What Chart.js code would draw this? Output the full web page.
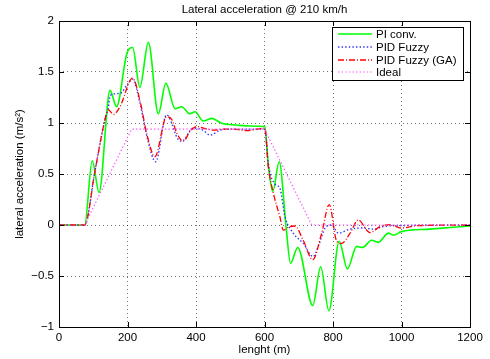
<!DOCTYPE html>
<html>
<head>
<meta charset="utf-8">
<script src="https://cdn.jsdelivr.net/npm/chart.js@4.4.1/dist/chart.umd.min.js"></script>
<style>
  html, body { margin: 0; padding: 0; background: #fff; }
  #wrap { width: 490px; height: 359px; }
</style>
</head>
<body>
<div id="wrap"><canvas id="c" width="490" height="359"></canvas></div>
<script>
// values (x in m, y in m/s^2)
const piX = [0, 75, 97, 117, 149, 168, 198, 215, 236, 261, 290, 312, 339, 358, 382, 397, 421, 446, 475, 519, 557, 601, 611, 624, 643, 663, 676, 697, 741, 764, 788, 818, 842, 869, 886, 913, 932, 962, 976, 1000, 1083, 1200];
const piY = [0, 0, 0.63, 0.32, 1.32, 1.16, 1.68, 1.74, 1.35, 1.79, 1.09, 1.39, 1.14, 1.16, 1.09, 1.11, 1.02, 1.045, 0.997, 0.98, 0.97, 0.965, 0.6, 0.33, 0.62, -0.02, -0.375, -0.22, -0.79, -0.41, -0.84, -0.16, -0.43, -0.21, -0.22, -0.15, -0.17, -0.08, -0.1, -0.065, -0.04, -0.01];

const fuzzyX = [0, 75, 105, 134, 144, 149, 178, 200, 215, 236, 258, 282, 314, 329, 344, 358, 392, 421, 441, 470, 500, 550, 601, 611, 631, 645, 660, 684, 713, 742, 757, 777, 796, 816, 850, 889, 918, 947, 1000, 1200];
const fuzzyY = [0, 0, 0.53, 1.03, 1.15, 1.27, 1.29, 1.38, 1.43, 1.2, 0.85, 0.62, 1.08, 1.0, 0.86, 0.82, 0.95, 0.93, 0.88, 0.93, 0.94, 0.94, 0.94, 0.6, 0.4, 0.36, 0.08, -0.08, -0.18, -0.31, -0.21, -0.03, 0.0, -0.08, -0.04, -0.03, -0.04, -0.015, -0.005, 0];

const gaX = [0, 75, 105, 134, 144, 159, 178, 215, 236, 258, 280, 314, 329, 344, 363, 382, 402, 421, 451, 480, 509, 548, 601, 611, 626, 645, 655, 674, 689, 713, 741, 767, 789, 811, 825, 850, 874, 898, 908, 937, 966, 1000, 1044, 1200];
const gaY = [0, 0, 0.53, 1.03, 1.13, 1.085, 1.16, 1.44, 1.225, 0.87, 0.67, 1.06, 1.036, 0.9, 0.82, 0.915, 0.965, 0.95, 0.93, 0.94, 0.94, 0.925, 0.95, 0.57, 0.31, 0.08, -0.05, -0.015, -0.01, -0.15, -0.34, -0.08, 0.2, -0.16, -0.18, -0.08, 0.05, -0.05, -0.075, -0.015, 0.003, -0.03, -0.007, 0];

const idealX = [0, 75, 212, 600, 738, 1200];
const idealY = [0, 0, 0.94, 0.94, 0, 0];

const seriesNames = ['PI conv.', 'PID Fuzzy', 'PID Fuzzy (GA)', 'Ideal'];
const xTicks = [0, 200, 400, 600, 800, 1000, 1200];
const yTicks = [-1, -0.5, 0, 0.5, 1, 1.5, 2];

const FONT = '"Liberation Sans", Arial, Helvetica, sans-serif';

function pts(xs, ys) {
  return xs.map((x, i) => ({ x: x, y: ys[i] }));
}

const datasets = [
  { label: seriesNames[0], data: pts(piX, piY), borderColor: '#00ff00', borderWidth: 1.6,
    cubicInterpolationMode: 'monotone', order: 4 },
  { label: seriesNames[1], data: pts(fuzzyX, fuzzyY), borderColor: '#3030ff', borderWidth: 1.4,
    borderDash: [1.4, 2.2], cubicInterpolationMode: 'monotone', order: 3 },
  { label: seriesNames[2], data: pts(gaX, gaY), borderColor: '#ff0000', borderWidth: 1.3,
    borderDash: [6, 2, 1, 2], cubicInterpolationMode: 'monotone', order: 2 },
  { label: seriesNames[3], data: pts(idealX, idealY), borderColor: '#ff55ff', borderWidth: 1.2,
    borderDash: [1.4, 2.2], tension: 0, order: 1 }
];
datasets.forEach(d => { d.pointRadius = 0; d.fill = false; });

// frame, inward ticks, titles and the boxed legend, drawn like the original figure
const decor = {
  id: 'decor',
  afterDatasetsDraw(chart) {
    const { ctx, chartArea: a, scales } = chart;
    ctx.save();
    ctx.strokeStyle = '#000';
    ctx.lineWidth = 1;
    ctx.setLineDash([]);
    ctx.beginPath();
    xTicks.forEach(v => {
      const px = Math.round(scales.x.getPixelForValue(v)) + 0.5;
      ctx.moveTo(px, a.bottom); ctx.lineTo(px, a.bottom - 5);
      ctx.moveTo(px, a.top); ctx.lineTo(px, a.top + 5);
    });
    yTicks.forEach(v => {
      const py = Math.round(scales.y.getPixelForValue(v)) + 0.5;
      ctx.moveTo(a.left, py); ctx.lineTo(a.left + 5, py);
      ctx.moveTo(a.right, py); ctx.lineTo(a.right - 5, py);
    });
    ctx.stroke();
    ctx.strokeRect(Math.round(a.left) + 0.5, Math.round(a.top) + 0.5,
      Math.round(a.right - a.left), Math.round(a.bottom - a.top));

    ctx.fillStyle = '#000';
    ctx.font = '11.5px ' + FONT;
    ctx.textAlign = 'center';
    ctx.textBaseline = 'middle';
    ctx.fillText('Lateral acceleration @ 210 km/h', (a.left + a.right) / 2, 10);
    ctx.fillText('lenght (m)', (a.left + a.right) / 2, 350);
    ctx.save();
    ctx.translate(20, (a.top + a.bottom) / 2);
    ctx.rotate(-Math.PI / 2);
    ctx.fillText('lateral acceleration (m/s\u00b2)', 0, 0);
    ctx.restore();

    // legend
    const lx = 332, ly = 27, lw = 131, lh = 53;
    ctx.fillStyle = '#fff';
    ctx.fillRect(lx, ly, lw, lh);
    ctx.strokeRect(lx + 0.5, ly + 0.5, lw, lh);
    ctx.textAlign = 'left';
    ctx.font = '11.5px ' + FONT;
    const rows = [34, 47, 60, 72];
    datasets.forEach((d, i) => {
      ctx.strokeStyle = d.borderColor;
      ctx.lineWidth = d.borderWidth;
      ctx.setLineDash(d.borderDash || []);
      ctx.beginPath();
      ctx.moveTo(338, rows[i]);
      ctx.lineTo(372, rows[i]);
      ctx.stroke();
      ctx.setLineDash([]);
      ctx.fillStyle = '#000';
      ctx.fillText(d.label, 376, rows[i] + 0.5);
    });
    ctx.restore();
  }
};

new Chart(document.getElementById('c'), {
  type: 'line',
  data: { datasets: datasets },
  options: {
    responsive: false,
    animation: false,
    events: [],
    layout: { padding: { left: 0, top: 21, right: 20, bottom: 0 } },
    plugins: { legend: { display: false }, tooltip: { enabled: false }, title: { display: false } },
    scales: {
      x: {
        type: 'linear', min: 0, max: 1200,
        afterFit: s => { s.height = 32; },
        afterBuildTicks: s => { s.ticks = xTicks.map(v => ({ value: v })); },
        grid: { color: 'rgba(0,0,0,0.55)', drawTicks: false, lineWidth: 1 },
        border: { display: false, dash: [1, 3] },
        ticks: { font: { family: FONT, size: 11.5 }, color: '#000', padding: 4, maxRotation: 0,
          callback: v => String(v) }
      },
      y: {
        type: 'linear', min: -1, max: 2,
        afterFit: s => { s.width = 59; },
        afterBuildTicks: s => { s.ticks = yTicks.map(v => ({ value: v })); },
        grid: { color: 'rgba(0,0,0,0.55)', drawTicks: false, lineWidth: 1 },
        border: { display: false, dash: [1, 3] },
        ticks: { font: { family: FONT, size: 11.5 }, color: '#000', padding: 5,
          callback: v => String(v).replace('-', '\u2212') }
      }
    }
  },
  plugins: [decor]
});
</script>
</body>
</html>
